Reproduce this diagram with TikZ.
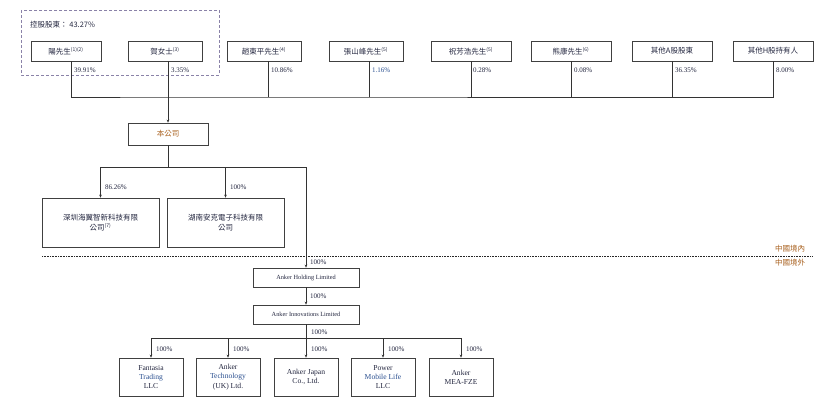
\documentclass[tikz,border=0pt]{standalone}
\usepackage{fontspec}
\setmainfont{Liberation Serif}
\newfontfamily\cjk{Noto Sans CJK TC}
\usetikzlibrary{arrows.meta}
\definecolor{inkc}{HTML}{23263F}
\definecolor{brownc}{HTML}{A8601E}
\definecolor{bluec}{HTML}{2A4F8F}
\definecolor{framec}{HTML}{8A82A8}
\newcommand{\nt}[1]{\textsuperscript{\tiny #1}}
\begin{document}
\begin{tikzpicture}[x=1pt,y=-1pt,>={Stealth[length=3pt,width=2.6pt]},
  line/.style={draw=black!80,line width=0.6pt},
  holder/.style={draw=black!75,line width=0.7pt,minimum width=74pt,minimum height=20pt,inner sep=1pt,text=inkc,font=\cjk\fontsize{7.5}{8.5}\selectfont},
  subbox/.style={draw=black!75,line width=0.7pt,minimum width=117pt,minimum height=49pt,align=center,text=inkc,font=\cjk\fontsize{7.5}{9.5}\selectfont},
  anker/.style={draw=black!75,line width=0.7pt,minimum width=106pt,minimum height=19pt,inner sep=1pt,text=inkc,font=\fontsize{6.3}{7}\selectfont},
  leaf/.style={draw=black!75,line width=0.7pt,minimum width=64pt,minimum height=38pt,inner sep=1pt,align=center,text=inkc,font=\fontsize{7.6}{9.2}\selectfont},
  pct/.style={anchor=west,inner sep=1pt,text=inkc,font=\fontsize{7}{8}\selectfont}]
\useasboundingbox (0,0) rectangle (832,404);
% controlling shareholders
\draw[framec,densely dashed,line width=0.6pt] (21,10) rectangle (219,75);
\node[anchor=west,inner sep=0pt,text=inkc,font=\cjk\fontsize{7.5}{8.5}\selectfont] (ctrl) at (30,25) {控股股東： 43.27\%};
\node[holder,minimum width=70pt] (yang) at (66,51) {陽先生\nt{(1)(2)}};
\node[holder] (he) at (165,51) {賀女士\nt{(3)}};
\node[holder] (zhao) at (264,51) {趙東平先生\nt{(4)}};
\node[holder] (zhang) at (366,51) {張山峰先生\nt{(5)}};
\node[holder,minimum width=80pt] (zhu) at (471,51) {祝芳浩先生\nt{(5)}};
\node[holder,minimum width=80pt] (xiong) at (571,51) {熊康先生\nt{(6)}};
\node[holder,minimum width=80pt] (otha) at (672,51) {其他A股股東};
\node[holder,minimum width=80pt] (othh) at (773,51) {其他H股持有人};
\node[pct] at (73,70) {39.91\%};
\node[pct] at (170,70) {3.35\%};
\node[pct] at (270,70) {10.86\%};
\node[pct,text=bluec] at (371,70) {1.16\%};
\node[pct] at (472,70) {0.28\%};
\node[pct] at (573,70) {0.08\%};
\node[pct] at (674,70) {36.35\%};
\node[pct] at (775,70) {8.00\%};
\coordinate (bar) at (168,97);
\draw[line] ([xshift=5pt]yang.south) |- (bar) -| (othh.south);
\draw[line] ([xshift=4pt]zhao.south) -- ([xshift=4pt]zhao.south |- bar);
\draw[line] ([xshift=3pt]zhang.south) -- ([xshift=3pt]zhang.south |- bar);
\foreach \n in {zhu,xiong,otha}
  \draw[line] (\n.south) -- (\n.south |- bar);
% the company
\node[holder,minimum width=80pt,minimum height=22pt,text=brownc] (gs) at (168,134) {本公司};
\draw[line,->] ([xshift=3pt]he.south) -- (gs.north);
\node[subbox] (sz) at (100.5,222.5) {深圳海翼智新科技有限\\公司\nt{(7)}};
\node[subbox] (hn) at (225.5,222.5) {湖南安克電子科技有限\\公司};
\coordinate (split) at (168,167);
\coordinate (right) at (306,167);
\draw[line] (gs.south) -- (split);
\draw[line,->] (split) -| (sz.north);
\draw[line,->] (split) -| (hn.north);
\node[pct] at (104,187) {86.26\%};
\node[pct] at (229,187) {100\%};
% border
\draw[black!85,densely dotted,line width=0.6pt] (42,256) -- (813,256);
\node[text=brownc,font=\cjk\fontsize{7.5}{8.5}\selectfont,inner sep=0pt] (cn) at (790,249) {中國境內};
\node[text=brownc,font=\cjk\fontsize{7.5}{8.5}\selectfont,inner sep=0pt] (ov) at (790,263) {中國境外};
% overseas
\node[anker] (hold) at (306,277.5) {Anker Holding Limited};
\node[anker] (inno) at (306,314.5) {Anker Innovations Limited};
\draw[line] (split) -- (right);
\draw[line,->] (right) -- (hold.north);
\draw[line,->] (hold.south) -- (inno.north);
\node[pct] at (309,262) {100\%};
\node[pct] at (309,296) {100\%};
\node[pct] at (310,332) {100\%};
\node[leaf] (ft) at (151,377) {Fantasia\\\textcolor{bluec}{Trading}\\LLC};
\node[leaf] (uk) at (228,377) {Anker\\\textcolor{bluec}{Technology}\\(UK) Ltd.};
\node[leaf] (jp) at (306,377) {Anker Japan\\Co., Ltd.};
\node[leaf] (pm) at (383,377) {Power\\\textcolor{bluec}{Mobile Life}\\LLC};
\node[leaf] (mea) at (461,377) {Anker\\MEA-FZE};
\coordinate (low) at (306,338);
\draw[line] (inno.south) -- (low);
\draw[line] (ft.north |- low) -- (mea.north |- low);
\foreach \n in {ft,uk,jp,pm,mea} {
  \draw[line,->] (\n.north |- low) -- (\n.north);
  \node[pct] at ([xshift=4pt]\n.north |- 0,349) {100\%};
}
\end{tikzpicture}
\end{document}
